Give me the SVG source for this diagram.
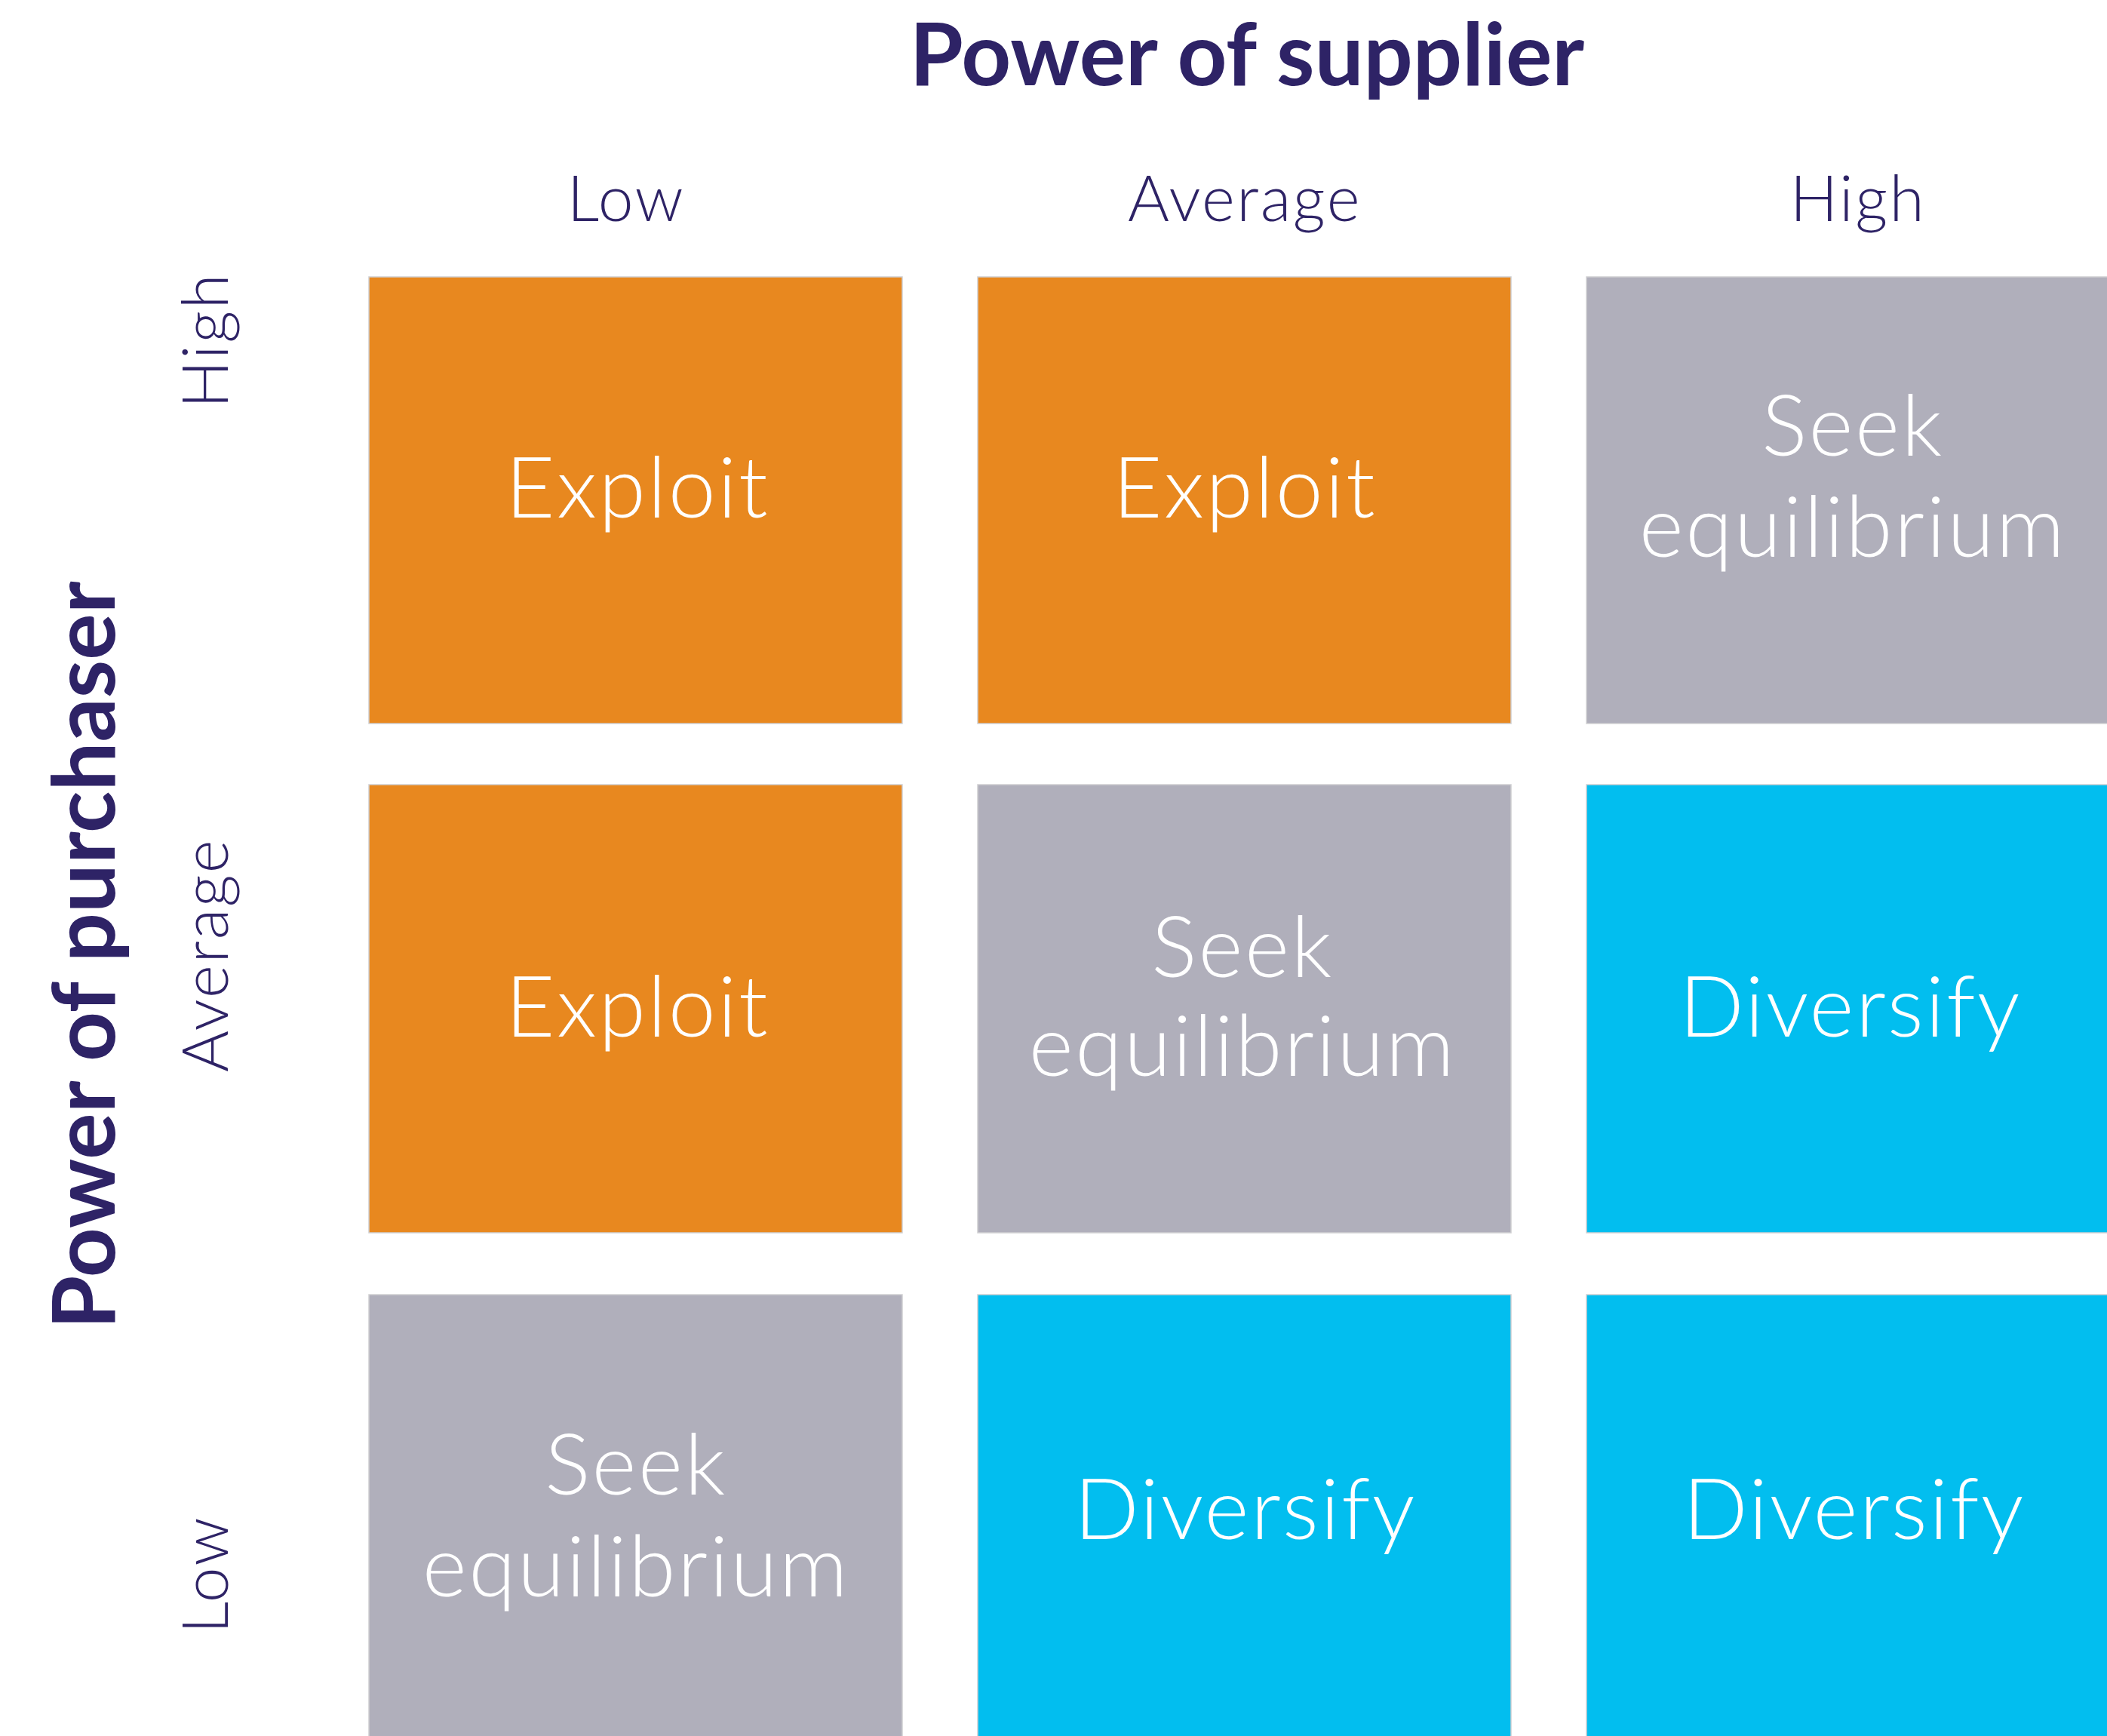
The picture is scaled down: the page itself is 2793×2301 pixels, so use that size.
<svg xmlns="http://www.w3.org/2000/svg" width="2793" height="2301" viewBox="0 0 2793 2301">
  <style>
    .cell { stroke: #cfcfd2; stroke-width: 1.5; }
    .exploit { fill: #E8881F; }
    .seek { fill: #B0AFBB; }
    .diversify { fill: #02BEEF; }
    .cell-text { font-family: "Lato", "Liberation Sans", sans-serif; font-weight: 300; font-size: 113px; letter-spacing: 2.5px; fill: #ffffff; text-anchor: middle; }
    .axis-title { font-family: "Lato", "Liberation Sans", sans-serif; font-weight: 700; font-size: 115px; fill: #2E2366; text-anchor: middle; }
    .axis-level { font-family: "Lato", "Liberation Sans", sans-serif; font-weight: 300; font-size: 84px; letter-spacing: 2.5px; fill: #2E2366; text-anchor: middle; }
  </style>
  <rect width="2793" height="2301" fill="#ffffff"/>

  <!-- axis titles -->
  <g id="supplier-axis">
    <text class="axis-title" x="1653" y="113">Power of supplier</text>
    <text class="axis-level" x="830" y="293">Low</text>
    <text class="axis-level" x="1650" y="293">Average</text>
    <text class="axis-level" x="2463" y="293">High</text>
  </g>
  <g id="purchaser-axis">
    <text class="axis-title" transform="translate(152 1266) rotate(-90)">Power of purchaser</text>
    <text class="axis-level" transform="translate(302 451) rotate(-90)">High</text>
    <text class="axis-level" transform="translate(302 1266) rotate(-90)">Average</text>
    <text class="axis-level" transform="translate(302 2087) rotate(-90)">Low</text>
  </g>

  <!-- row: high purchaser power -->
  <g id="cell-high-low">
    <rect class="cell exploit" x="489" y="367" width="707" height="592"/>
    <text class="cell-text" x="845" y="686">Exploit</text>
  </g>
  <g id="cell-high-average">
    <rect class="cell exploit" x="1296" y="367" width="707" height="592"/>
    <text class="cell-text" x="1650" y="686">Exploit</text>
  </g>
  <g id="cell-high-high">
    <rect class="cell seek" x="2103" y="367" width="707" height="592"/>
    <text class="cell-text" x="2456" y="604">Seek</text>
    <text class="cell-text" x="2456" y="738">equilibrium</text>
  </g>

  <!-- row: average purchaser power -->
  <g id="cell-average-low">
    <rect class="cell exploit" x="489" y="1040" width="707" height="594"/>
    <text class="cell-text" x="845" y="1374">Exploit</text>
  </g>
  <g id="cell-average-average">
    <rect class="cell seek" x="1296" y="1040" width="707" height="594"/>
    <text class="cell-text" x="1647" y="1295">Seek</text>
    <text class="cell-text" x="1647" y="1426">equilibrium</text>
  </g>
  <g id="cell-average-high">
    <rect class="cell diversify" x="2103" y="1040" width="707" height="594"/>
    <text class="cell-text" x="2453" y="1374">Diversify</text>
  </g>

  <!-- row: low purchaser power -->
  <g id="cell-low-low">
    <rect class="cell seek" x="489" y="1716" width="707" height="600"/>
    <text class="cell-text" x="843" y="1981">Seek</text>
    <text class="cell-text" x="843" y="2116">equilibrium</text>
  </g>
  <g id="cell-low-average">
    <rect class="cell diversify" x="1296" y="1716" width="707" height="600"/>
    <text class="cell-text" x="1651" y="2040">Diversify</text>
  </g>
  <g id="cell-low-high">
    <rect class="cell diversify" x="2103" y="1716" width="707" height="600"/>
    <text class="cell-text" x="2458" y="2040">Diversify</text>
  </g>

  <g id="connectors"/>
</svg>
